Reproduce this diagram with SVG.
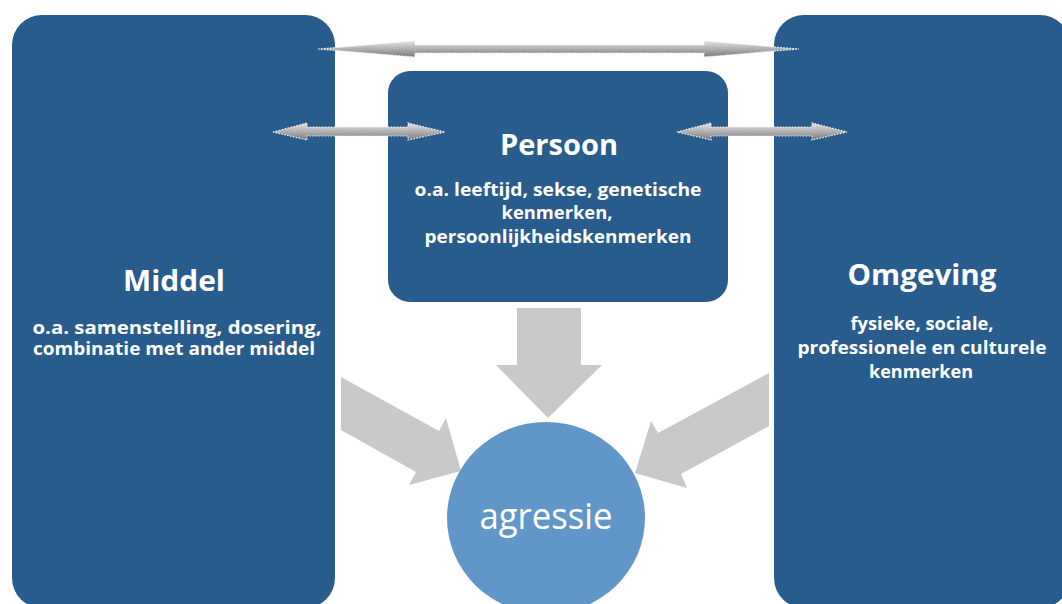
<svg xmlns="http://www.w3.org/2000/svg" width="1062" height="604" viewBox="0 0 1062 604">
  <defs>
    <linearGradient id="dg" x1="0" y1="0" x2="0" y2="1">
      <stop offset="0" stop-color="#e2e2e2"/>
      <stop offset="0.5" stop-color="#b0b0b0"/>
      <stop offset="1" stop-color="#7a7a7a"/>
    </linearGradient>
  </defs>
  <style>
    .box { fill: #275c8d; }
    .big { fill: #c9c9c9; }
    .dbl { fill: url(#dg); stroke: #f4f4f4; stroke-width: 1.2; stroke-dasharray: 1.5 1.5; }
    .t { font-family: "Open Sans", "Liberation Sans", sans-serif; fill: #ffffff; text-anchor: middle; font-weight: bold; }
    .title { font-size: 29px; }
    .sub { font-size: 17px; }
    .circ { font-family: "Open Sans", "Liberation Sans", sans-serif; fill: #ffffff; text-anchor: middle; font-size: 37px; }
  </style>
  <rect width="1062" height="604" fill="#ffffff"/>

  <g id="connectors">
    <polygon class="big" points="517,308 581,308 581,365 602,365 548,418 496,365 517,365"/>
    <polygon class="big" points="341,377 439,431 446,418 461,471 409,485 416,472 341,430"/>
    <polygon class="big" points="769,373 658,433 651,421 635,473 687,488 681,474 769,426"/>
  </g>

  <g id="middel">
    <rect class="box" x="12" y="15" width="323" height="593" rx="30" ry="30"/>
    <text class="t title" x="174" y="291" textLength="102" lengthAdjust="spacingAndGlyphs">Middel</text>
    <text class="t sub" x="177" y="334" textLength="289" lengthAdjust="spacingAndGlyphs">o.a. samenstelling, dosering,</text>
    <text class="t sub" x="174" y="355" textLength="282" lengthAdjust="spacingAndGlyphs">combinatie met ander middel</text>
  </g>

  <g id="omgeving">
    <rect class="box" x="774" y="15" width="296" height="593" rx="30" ry="30"/>
    <text class="t title" x="922" y="285" textLength="149" lengthAdjust="spacingAndGlyphs">Omgeving</text>
    <text class="t sub" x="922" y="330" textLength="143" lengthAdjust="spacingAndGlyphs">fysieke, sociale,</text>
    <text class="t sub" x="922" y="354" textLength="249" lengthAdjust="spacingAndGlyphs">professionele en culturele</text>
    <text class="t sub" x="921" y="378" textLength="104" lengthAdjust="spacingAndGlyphs">kenmerken</text>
  </g>

  <g id="persoon">
    <rect class="box" x="388" y="71" width="340" height="231" rx="22" ry="22"/>
    <text class="t title" x="559" y="155" textLength="118" lengthAdjust="spacingAndGlyphs">Persoon</text>
    <text class="t sub" x="558" y="196" textLength="287" lengthAdjust="spacingAndGlyphs">o.a. leeftijd, sekse, genetische</text>
    <text class="t sub" x="557" y="219" textLength="111" lengthAdjust="spacingAndGlyphs">kenmerken,</text>
    <text class="t sub" x="558" y="243" textLength="267" lengthAdjust="spacingAndGlyphs">persoonlijkheidskenmerken</text>
  </g>

  <g id="agressie">
    <ellipse cx="546" cy="518" rx="99" ry="96" fill="#6197c8"/>
    <text class="circ" x="546" y="529" textLength="133" lengthAdjust="spacingAndGlyphs">agressie</text>
  </g>

  <g id="double-arrows">
    <polygon class="dbl" points="318,49 415,41 415,45 704,45 704,41 799,49 704,57 704,53 415,53 415,57"/>
    <polygon class="dbl" points="273,132 307,123 307,127 408,127 408,123 445,132 408,140 408,136 307,136 307,140"/>
    <polygon class="dbl" points="677,132 711,123 711,127 812,127 812,123 847,132 812,140 812,136 711,136 711,140"/>
  </g>
</svg>
